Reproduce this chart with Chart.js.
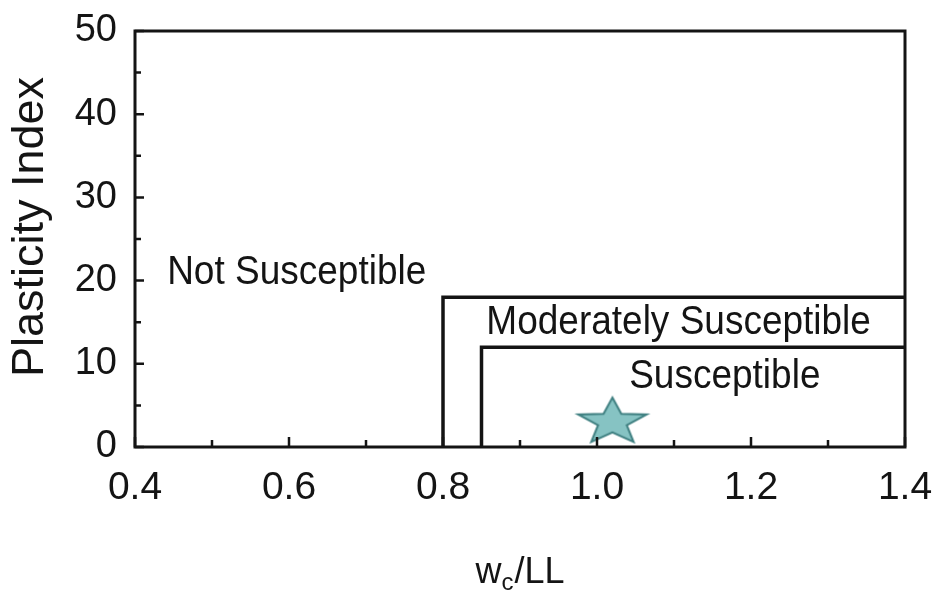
<!DOCTYPE html>
<html>
<head>
<meta charset="utf-8">
<script src="https://cdn.jsdelivr.net/npm/chart.js@4/dist/chart.umd.min.js"></script>
<style>
  html, body { margin: 0; padding: 0; background: #ffffff; }
  #wrap { width: 936px; height: 593px; position: relative; }
</style>
</head>
<body>
<div id="wrap"><canvas id="c" width="936" height="593"></canvas></div>
<script>
// ---- data ----
const xTicks = [0.4, 0.6, 0.8, 1.0, 1.2, 1.4];
const xTickLabels = ['0.4', '0.6', '0.8', '1.0', '1.2', '1.4'];
const xMinorTicks = [0.5, 0.7, 0.9, 1.1, 1.3];
const yTicks = [0, 10, 20, 30, 40, 50];
const yTickLabels = ['0', '10', '20', '30', '40', '50'];
const yMinorTicks = [5, 15, 25, 35, 45];

const moderateBoundaryX = [0.8, 0.8, 1.4];
const moderateBoundaryY = [0, 18, 18];
const susceptibleBoundaryX = [0.85, 0.85, 1.4];
const susceptibleBoundaryY = [0, 12, 12];

const sampleX = [1.02];
const sampleY = [3.0];

const zoneLabels = ['Not Susceptible', 'Moderately Susceptible', 'Susceptible'];
const zoneLabelX = [0.610, 1.106, 1.166];
const zoneLabelY = [19.6, 13.6, 7.1];

const yTitle = 'Plasticity Index';
const xTitleMain = 'w';
const xTitleSub = 'c';
const xTitleRest = '/LL';

// ---- helpers ----
const toPoints = (xs, ys) => xs.map((x, i) => ({ x: x, y: ys[i] }));

function makeStar() {
  const rx = 36, ry = 24.5, inner = 0.42, pad = 3;
  const cv = document.createElement('canvas');
  cv.width = Math.ceil(2 * rx + 2 * pad);
  cv.height = Math.ceil(2 * ry + 2 * pad);
  const g = cv.getContext('2d');
  const cx = cv.width / 2, cy = cv.height / 2;
  g.beginPath();
  for (let i = 0; i < 10; i++) {
    const a = -Math.PI / 2 + i * Math.PI / 5;
    const r = (i % 2 === 0) ? 1 : inner;
    const px = cx + rx * r * Math.cos(a);
    const py = cy + ry * r * Math.sin(a);
    if (i === 0) g.moveTo(px, py); else g.lineTo(px, py);
  }
  g.closePath();
  g.fillStyle = '#86c3c3';
  g.fill();
  g.lineWidth = 2;
  g.lineJoin = 'miter';
  g.strokeStyle = '#3e7f80';
  g.stroke();
  return cv;
}

const INK = '#141414';
const FONT = '"Liberation Sans", Arial, Helvetica, sans-serif';

const zeroPad = s => { s.paddingTop = 0; s.paddingBottom = 0; s.paddingLeft = 0; s.paddingRight = 0; };

const decorPlugin = {
  id: 'decor',
  afterDraw(chart) {
    const ctx = chart.ctx;
    const a = chart.chartArea;
    const xs = chart.scales.x, ys = chart.scales.y;
    ctx.save();
    // frame
    ctx.strokeStyle = INK;
    ctx.lineWidth = 3;
    ctx.strokeRect(a.left, a.top, a.right - a.left, a.bottom - a.top);
    // inside ticks
    ctx.lineWidth = 2.5;
    ctx.beginPath();
    xTicks.forEach(v => { const p = xs.getPixelForValue(v); ctx.moveTo(p, a.bottom); ctx.lineTo(p, a.bottom - 10); });
    xMinorTicks.forEach(v => { const p = xs.getPixelForValue(v); ctx.moveTo(p, a.bottom); ctx.lineTo(p, a.bottom - 7); });
    yTicks.forEach(v => { const p = ys.getPixelForValue(v); ctx.moveTo(a.left, p); ctx.lineTo(a.left + 9, p); });
    yMinorTicks.forEach(v => { const p = ys.getPixelForValue(v); ctx.moveTo(a.left, p); ctx.lineTo(a.left + 6, p); });
    ctx.stroke();

    // zone labels (slightly stretched vertically like the source)
    ctx.fillStyle = INK;
    ctx.font = '37px ' + FONT;
    ctx.textAlign = 'center';
    ctx.textBaseline = 'alphabetic';
    zoneLabels.forEach((t, i) => {
      const px = xs.getPixelForValue(zoneLabelX[i]);
      const py = ys.getPixelForValue(zoneLabelY[i]);
      ctx.save();
      ctx.translate(px, py);
      ctx.scale(1, 1.12);
      ctx.fillText(t, 0, 0);
      ctx.restore();
    });

    // y title
    ctx.save();
    ctx.font = '45px ' + FONT;
    ctx.textAlign = 'center';
    ctx.textBaseline = 'middle';
    ctx.translate(a.left - 104, (a.top + a.bottom) / 2 - 12);
    ctx.rotate(-Math.PI / 2);
    ctx.fillText(yTitle, 0, 0);
    ctx.restore();

    // x title with subscript
    ctx.save();
    ctx.textAlign = 'left';
    ctx.textBaseline = 'alphabetic';
    const mainFont = '36px ' + FONT, subFont = '24px ' + FONT;
    ctx.font = mainFont; const w1 = ctx.measureText(xTitleMain).width;
    const w3 = ctx.measureText(xTitleRest).width;
    ctx.font = subFont; const w2 = ctx.measureText(xTitleSub).width;
    const total = w1 + w2 + w3 + 1;
    let x0 = (a.left + a.right) / 2 - total / 2;
    const base = a.bottom + 136;
    ctx.font = mainFont; ctx.fillText(xTitleMain, x0, base); x0 += w1;
    ctx.font = subFont; ctx.fillText(xTitleSub, x0, base + 7); x0 += w2 + 1;
    ctx.font = mainFont; ctx.fillText(xTitleRest, x0, base);
    ctx.restore();

    ctx.restore();
  }
};

const starImg = makeStar();

new Chart(document.getElementById('c'), {
  type: 'scatter',
  data: {
    datasets: [
      {
        label: 'Moderately susceptible boundary',
        data: toPoints(moderateBoundaryX, moderateBoundaryY),
        showLine: true, borderColor: INK, borderWidth: 3.5,
        pointRadius: 0, fill: false, clip: false, tension: 0
      },
      {
        label: 'Susceptible boundary',
        data: toPoints(susceptibleBoundaryX, susceptibleBoundaryY),
        showLine: true, borderColor: INK, borderWidth: 3.5,
        pointRadius: 0, fill: false, clip: false, tension: 0
      },
      {
        label: 'Sample',
        data: toPoints(sampleX, sampleY),
        showLine: false,
        pointStyle: starImg, pointRadius: 30, clip: false
      }
    ]
  },
  options: {
    responsive: false,
    animation: false,
    layout: { padding: { top: 29, right: 30, left: 0, bottom: 0 } },
    plugins: { legend: { display: false }, tooltip: { enabled: false } },
    scales: {
      x: {
        type: 'linear', min: 0.4, max: 1.4,
        border: { display: false },
        grid: { display: false, drawTicks: false },
        afterBuildTicks: s => { s.ticks = xTicks.map(v => ({ value: v })); },
        afterFit: s => { s.height = 146; zeroPad(s); },
        ticks: {
          padding: 18, color: INK, maxRotation: 0, autoSkip: false,
          font: { family: FONT, size: 39 },
          callback: (v, i) => xTickLabels[i]
        }
      },
      y: {
        type: 'linear', min: 0, max: 50,
        border: { display: false },
        grid: { display: false, drawTicks: false },
        afterBuildTicks: s => { s.ticks = yTicks.map(v => ({ value: v })); },
        afterFit: s => { s.width = 135; zeroPad(s); },
        ticks: {
          padding: 18, color: INK, autoSkip: false,
          font: { family: FONT, size: 38 },
          callback: (v, i) => yTickLabels[i]
        }
      }
    }
  },
  plugins: [decorPlugin]
});
</script>
</body>
</html>
